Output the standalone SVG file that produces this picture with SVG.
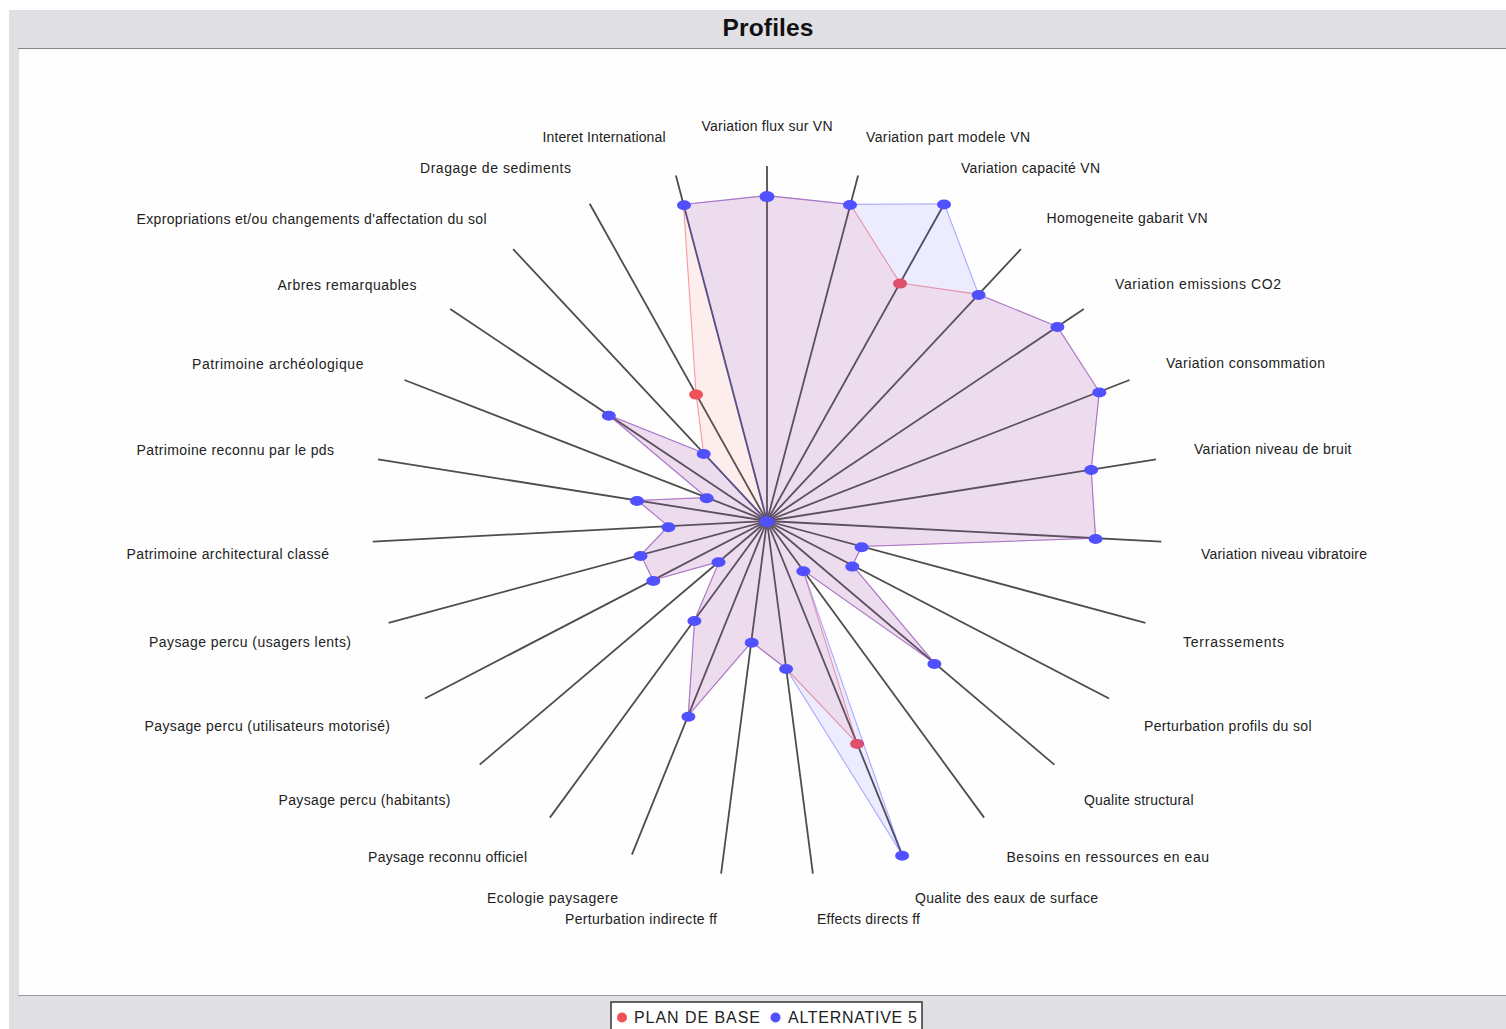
<svg xmlns="http://www.w3.org/2000/svg" width="1506" height="1029" viewBox="0 0 1506 1029">
<style>
.lbl{font-family:"Liberation Sans",Arial,sans-serif;font-size:14px;fill:#222}
.ax{stroke:#4d4d4d;stroke-width:1.8;fill:none}
.pb{fill:#f05058}
.al{fill:#5050ff}
</style>
<rect x="0" y="0" width="1506" height="1029" fill="#ffffff"/>
<rect x="9" y="10" width="1497" height="1019" fill="#e0dfe4"/>
<rect x="19" y="49" width="1487" height="946" fill="#fefefe"/>
<line x1="18" y1="48.5" x2="1506" y2="48.5" stroke="#858585" stroke-width="1.2"/>
<line x1="18" y1="995.5" x2="1506" y2="995.5" stroke="#9a9a9a" stroke-width="1.2"/>
<text x="768" y="35.5" text-anchor="middle" font-family="Liberation Sans,Arial,sans-serif" font-size="24.5" font-weight="bold" fill="#111" textLength="91">Profiles</text>

<g id="connectors">
<line class="ax" x1="767" y1="521" x2="767" y2="166" stroke-width="2.4"/>
<line class="ax" x1="767" y1="521" x2="858.1" y2="175.6"/>
<line class="ax" x1="767" y1="521" x2="944.3" y2="203.8"/>
<line class="ax" x1="767" y1="521" x2="1020.9" y2="249.1"/>
<line class="ax" x1="767" y1="521" x2="1083.8" y2="309"/>
<line class="ax" x1="767" y1="521" x2="1129.5" y2="380"/>
<line class="ax" x1="767" y1="521" x2="1156" y2="459.4"/>
<line class="ax" x1="767" y1="521" x2="1161.3" y2="541.6"/>
<line class="ax" x1="767" y1="521" x2="1145.4" y2="622.8"/>
<line class="ax" x1="767" y1="521" x2="1109.1" y2="698.5"/>
<line class="ax" x1="767" y1="521" x2="1054.3" y2="764.6"/>
<line class="ax" x1="767" y1="521" x2="984.1" y2="817.6"/>
<line class="ax" x1="767" y1="521" x2="902.1" y2="854.6"/>
<line class="ax" x1="767" y1="521" x2="812.9" y2="873.6"/>
<line class="ax" x1="767" y1="521" x2="721.1" y2="873.6"/>
<line class="ax" x1="767" y1="521" x2="631.9" y2="854.6"/>
<line class="ax" x1="767" y1="521" x2="549.9" y2="817.6"/>
<line class="ax" x1="767" y1="521" x2="479.7" y2="764.6"/>
<line class="ax" x1="767" y1="521" x2="424.9" y2="698.5"/>
<line class="ax" x1="767" y1="521" x2="388.6" y2="622.8"/>
<line class="ax" x1="767" y1="521" x2="372.7" y2="541.6"/>
<line class="ax" x1="767" y1="521" x2="378" y2="459.4"/>
<line class="ax" x1="767" y1="521" x2="404.5" y2="380"/>
<line class="ax" x1="767" y1="521" x2="450.2" y2="309"/>
<line class="ax" x1="767" y1="521" x2="513.1" y2="249.1"/>
<line class="ax" x1="767" y1="521" x2="589.7" y2="203.8"/>
<line class="ax" x1="767" y1="521" x2="675.9" y2="175.6"/>
</g>

<g id="series-plan-de-base">
<polygon points="767,195.6 850.5,204.4 900,283.1 978.6,294.4 1057.4,326.6 1099.3,391.8 1091.2,469.6 1095.6,538.2 861.6,546.5 852.5,565.4 934.6,663.1 803.2,570.4 857.1,743.4 786.1,668.5 751.7,642 688.2,715.6 694.6,619.9 719.1,561.6 653,580.2 640.9,554.9 668.4,526.2 637.3,500.4 706.6,497.5 608.6,415 703.5,453 696.1,394.1 683.5,204.4" fill="#ff5555" fill-opacity="0.1" stroke="#f05058" stroke-opacity="0.55" stroke-width="1.1"/>
<ellipse class="pb" cx="900" cy="283.6" rx="7" ry="5"/>
<ellipse class="pb" cx="857.1" cy="743.9" rx="7" ry="5"/>
<ellipse class="pb" cx="696.1" cy="394.6" rx="7" ry="5"/>
</g>

<g id="series-alternative-5">
<polygon points="767,195.6 850.5,204.4 944.3,203.8 978.6,294.4 1057.4,326.6 1099.3,391.8 1091.2,469.6 1095.6,538.2 861.6,546.5 852.5,565.4 934.6,663.1 803.2,570.4 902.1,854.6 786.1,668.5 751.7,642 688.2,715.6 694.6,619.9 719.1,561.6 653,580.2 640.9,554.9 668.4,526.2 637.3,500.4 706.6,497.5 608.6,415 703.5,453 767,521 683.5,204.4" fill="#5050ff" fill-opacity="0.1" stroke="#5050ff" stroke-opacity="0.45" stroke-width="1.1"/>
<ellipse class="al" cx="767" cy="196.6" rx="7.5" ry="5.5"/>
<ellipse class="al" cx="850" cy="205" rx="7" ry="5"/>
<ellipse class="al" cx="944" cy="204.5" rx="7" ry="5"/>
<ellipse class="al" cx="978.6" cy="295" rx="7" ry="5"/>
<ellipse class="al" cx="1057.4" cy="327" rx="7" ry="5"/>
<ellipse class="al" cx="1099.3" cy="392.5" rx="7" ry="5"/>
<ellipse class="al" cx="1091.2" cy="470" rx="7" ry="5"/>
<ellipse class="al" cx="1095.6" cy="539" rx="7" ry="5"/>
<ellipse class="al" cx="861.6" cy="547.3" rx="7" ry="5"/>
<ellipse class="al" cx="852.3" cy="566.6" rx="7" ry="5"/>
<ellipse class="al" cx="934.4" cy="664" rx="7" ry="5"/>
<ellipse class="al" cx="803.3" cy="571.3" rx="7" ry="5"/>
<ellipse class="al" cx="902.1" cy="855.8" rx="7" ry="5"/>
<ellipse class="al" cx="786.1" cy="669" rx="7" ry="5"/>
<ellipse class="al" cx="751.7" cy="642.7" rx="7" ry="5"/>
<ellipse class="al" cx="688.4" cy="716.7" rx="7" ry="5"/>
<ellipse class="al" cx="694.4" cy="621" rx="7" ry="5"/>
<ellipse class="al" cx="718.5" cy="562.3" rx="7" ry="5"/>
<ellipse class="al" cx="653.3" cy="581" rx="7" ry="5"/>
<ellipse class="al" cx="640.5" cy="556" rx="7" ry="5"/>
<ellipse class="al" cx="668.4" cy="527.3" rx="7" ry="5"/>
<ellipse class="al" cx="637" cy="501" rx="7" ry="5"/>
<ellipse class="al" cx="706.7" cy="498.3" rx="7" ry="5"/>
<ellipse class="al" cx="608.8" cy="415.8" rx="7" ry="5"/>
<ellipse class="al" cx="703.7" cy="454" rx="7" ry="5"/>
<ellipse class="al" cx="767" cy="521.7" rx="7.5" ry="5.5"/>
<ellipse class="al" cx="684" cy="205.3" rx="7" ry="5"/>
</g>

<g id="node-0"><text class="lbl" x="701.5" y="131" textLength="131">Variation flux sur VN</text></g>
<g id="node-1"><text class="lbl" x="866" y="142" textLength="164">Variation part modele VN</text></g>
<g id="node-2"><text class="lbl" x="961" y="173" textLength="139">Variation capacité VN</text></g>
<g id="node-3"><text class="lbl" x="1046.5" y="223" textLength="161">Homogeneite gabarit VN</text></g>
<g id="node-4"><text class="lbl" x="1115" y="289" textLength="166">Variation emissions CO2</text></g>
<g id="node-5"><text class="lbl" x="1166" y="368" textLength="159">Variation consommation</text></g>
<g id="node-6"><text class="lbl" x="1194" y="454" textLength="157.5">Variation niveau de bruit</text></g>
<g id="node-7"><text class="lbl" x="1201" y="559" textLength="166">Variation niveau vibratoire</text></g>
<g id="node-8"><text class="lbl" x="1183" y="647" textLength="101">Terrassements</text></g>
<g id="node-9"><text class="lbl" x="1144" y="731" textLength="167.5">Perturbation profils du sol</text></g>
<g id="node-10"><text class="lbl" x="1084" y="805" textLength="109.5">Qualite structural</text></g>
<g id="node-11"><text class="lbl" x="1006.5" y="862" textLength="202.5">Besoins en ressources en eau</text></g>
<g id="node-12"><text class="lbl" x="915" y="903" textLength="183">Qualite des eaux de surface</text></g>
<g id="node-13"><text class="lbl" x="817" y="924" textLength="103">Effects directs ff</text></g>
<g id="node-14"><text class="lbl" x="565" y="924" textLength="152">Perturbation indirecte ff</text></g>
<g id="node-15"><text class="lbl" x="487" y="903" textLength="131">Ecologie paysagere</text></g>
<g id="node-16"><text class="lbl" x="368" y="862" textLength="159">Paysage reconnu officiel</text></g>
<g id="node-17"><text class="lbl" x="278.5" y="805" textLength="172">Paysage percu (habitants)</text></g>
<g id="node-18"><text class="lbl" x="144.5" y="731" textLength="245.5">Paysage percu (utilisateurs motorisé)</text></g>
<g id="node-19"><text class="lbl" x="149" y="647" textLength="202">Paysage percu (usagers lents)</text></g>
<g id="node-20"><text class="lbl" x="126.5" y="559" textLength="202.5">Patrimoine architectural classé</text></g>
<g id="node-21"><text class="lbl" x="136.5" y="455" textLength="197.5">Patrimoine reconnu par le pds</text></g>
<g id="node-22"><text class="lbl" x="192" y="369" textLength="171.5">Patrimoine archéologique</text></g>
<g id="node-23"><text class="lbl" x="277.5" y="290" textLength="139">Arbres remarquables</text></g>
<g id="node-24"><text class="lbl" x="136.5" y="224" textLength="350">Expropriations et/ou changements d'affectation du sol</text></g>
<g id="node-25"><text class="lbl" x="420" y="173" textLength="151">Dragage de sediments</text></g>
<g id="node-26"><text class="lbl" x="542.5" y="142" textLength="123">Interet International</text></g>

<g id="legend">
<rect x="611" y="1002" width="311" height="32" fill="#ffffff" stroke="#333" stroke-width="1.5"/>
<circle cx="622" cy="1017.5" r="5" class="pb"/>
<text x="634" y="1023" font-family="Liberation Sans,Arial,sans-serif" font-size="16" fill="#222" textLength="126">PLAN DE BASE</text>
<circle cx="775.5" cy="1017.5" r="5" class="al"/>
<text x="788" y="1023" font-family="Liberation Sans,Arial,sans-serif" font-size="16" fill="#222" textLength="129">ALTERNATIVE 5</text>
</g>
</svg>
